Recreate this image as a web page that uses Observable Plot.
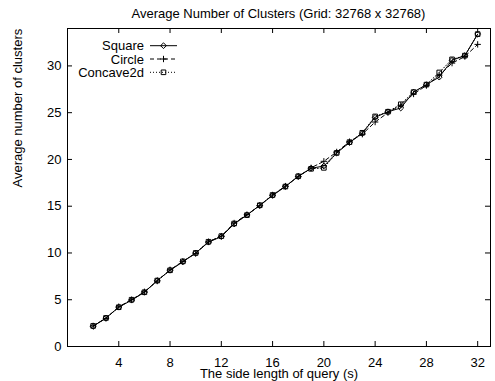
<!DOCTYPE html>
<html><head><meta charset="utf-8">
<script src="https://cdn.jsdelivr.net/npm/d3@7"></script>
<script src="https://cdn.jsdelivr.net/npm/@observablehq/plot@0.6"></script>
<style>
body{margin:0;background:#fff;font-family:"Liberation Sans",Arial,sans-serif;}
#title{width:495px;height:25px;box-sizing:border-box;padding-left:62px;padding-top:3px;text-align:center;font-size:13px;line-height:22px;color:#000;}
</style></head><body>
<div id="title">Average Number of Clusters (Grid: 32768 x 32768)</div>
<div id="chart"></div>
<script>
const sideLengths = [2,3,4,5,6,7,8,9,10,11,12,13,14,15,16,17,18,19,20,21,22,23,24,25,26,27,28,29,30,31,32];
const squareValues = [2.15,3.05,4.2,4.95,5.8,7.05,8.15,9.05,10.0,11.15,11.75,13.1,14.05,15.1,16.15,17.1,18.2,19.05,19.3,20.7,21.8,22.8,24.5,25.1,25.5,27.2,28.0,28.8,30.6,31.1,33.4];
const circleValues = [2.2,3.0,4.25,5.0,5.85,7.0,8.2,9.1,9.95,11.2,11.8,13.2,14.1,15.05,16.2,17.15,18.15,19.1,19.8,20.8,21.9,22.7,24.0,25.0,25.8,27.0,27.9,29.0,30.3,31.0,32.3];
const concave2dValues = [2.2,3.05,4.2,5.0,5.8,7.05,8.15,9.1,10.0,11.2,11.8,13.15,14.05,15.1,16.2,17.1,18.2,19.0,19.1,20.7,21.85,22.85,24.6,25.1,25.9,27.2,28.0,29.3,30.7,31.1,33.4];
const seriesNames = ["Square","Circle","Concave2d"];
const xTicks = [4,8,12,16,20,24,28,32];
const yTicks = [0,5,10,15,20,25,30];

const seriesStyle = {
  "Square":   {values: squareValues,    symbol: "diamond2", dash: null,  d3sym: d3.symbolDiamond2, r: 2.6},
  "Circle":   {values: circleValues,    symbol: "plus",     dash: "4,3", d3sym: d3.symbolPlus,     r: 2.2},
  "Concave2d":{values: concave2dValues, symbol: "square",   dash: "1,2", d3sym: d3.symbolSquare,   r: 2.6}
};
const rows = seriesNames.flatMap(name => sideLengths.map((x, i) => ({series: name, x, y: seriesStyle[name].values[i]})));

const W = 495, H = 356, mL = 67, mR = 5, mT = 3, mB = 35;
const fw = W - mL - mR, fh = H - mT - mB, tl = 5;

const marks = [
  Plot.frame({stroke: "black"}),
  Plot.tickX(xTicks, {x: d => d, insetTop: fh - tl, stroke: "black"}),
  Plot.tickX(xTicks, {x: d => d, insetBottom: fh - tl, stroke: "black"}),
  Plot.tickY(yTicks, {y: d => d, insetRight: fw - tl, stroke: "black"}),
  Plot.tickY(yTicks, {y: d => d, insetLeft: fw - tl, stroke: "black"}),
  Plot.axisX({ticks: xTicks, tickSize: 0, tickPadding: 11, label: null}),
  Plot.axisY({ticks: yTicks, tickSize: 0, tickPadding: 6, label: null}),
  Plot.text(["The side length of query (s)"], {frameAnchor: "bottom", dy: 31, text: d => d, fontSize: 13, fill: "black"}),
  Plot.text(["Average number of clusters"], {frameAnchor: "left", dx: -50, rotate: -90, text: d => d, fontSize: 13, fill: "black"})
];
for (const name of seriesNames) {
  const s = seriesStyle[name];
  const data = rows.filter(r => r.series === name);
  marks.push(Plot.line(data, {x: "x", y: "y", stroke: "black", strokeWidth: 1, strokeDasharray: s.dash}));
  marks.push(Plot.dot(data, {x: "x", y: "y", symbol: s.symbol, r: s.r, stroke: "black", fill: "none", strokeWidth: 1}));
}

const plot = Plot.plot({
  width: W, height: H,
  marginLeft: mL, marginRight: mR, marginTop: mT, marginBottom: mB,
  style: {fontFamily: "Liberation Sans, Arial, sans-serif", fontSize: "13px", color: "black", background: "white"},
  x: {domain: [0, 33]},
  y: {domain: [0, 34]},
  marks
});

// legend (gnuplot style, inside top-left of frame)
const svg = d3.select(plot);
const lg = svg.append("g").attr("transform", `translate(${mL},${mT})`)
  .attr("font-family", "Liberation Sans, Arial, sans-serif").attr("font-size", 13);
seriesNames.forEach((name, i) => {
  const s = seriesStyle[name];
  const y = 17.7 + i * 13.3;
  lg.append("text").attr("x", 77).attr("y", y).attr("dy", "0.35em").attr("text-anchor", "end").attr("fill", "black").text(name);
  lg.append("line").attr("x1", 83).attr("x2", 110).attr("y1", y).attr("y2", y)
    .attr("stroke", "black").attr("stroke-dasharray", s.dash);
  lg.append("path").attr("transform", `translate(96.5,${y})`)
    .attr("d", d3.symbol(s.d3sym, Math.PI * s.r * s.r)()).attr("fill", "none").attr("stroke", "black");
});

document.getElementById("chart").appendChild(plot);
</script>
</body></html>
